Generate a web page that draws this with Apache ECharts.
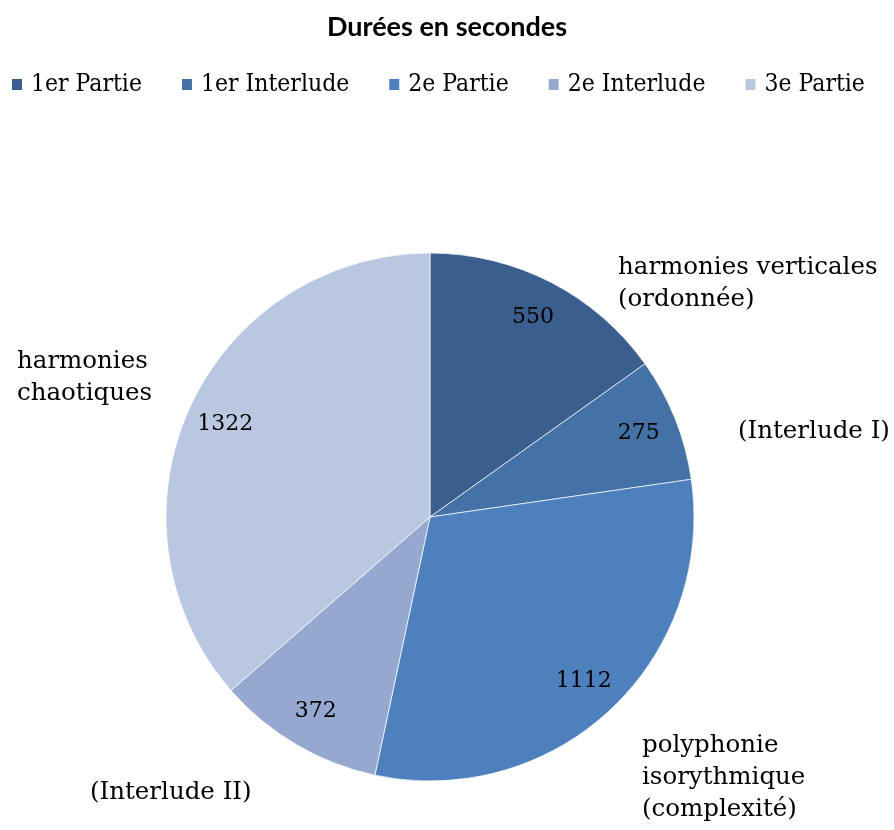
<!DOCTYPE html>
<html>
<head>
<meta charset="utf-8">
<script src="https://cdn.jsdelivr.net/npm/echarts@6/dist/echarts.min.js"></script>
<style>
html,body{margin:0;padding:0;background:#fff;}
#chart{width:894px;height:830px;}
</style>
</head>
<body>
<div id="chart"></div>
<script>
// Data
var categories = ['1er Partie', '1er Interlude', '2e Partie', '2e Interlude', '3e Partie'];
var values = [550, 275, 1112, 372, 1322];
var descriptions = ['harmonies verticales\n(ordonnée)', '(Interlude I)', 'polyphonie\nisorythmique\n(complexité)', '(Interlude II)', 'harmonies\nchaotiques'];
var titleText = 'Durées en secondes';

// Styles / layout
var colors = ['#3A5F8E', '#4471A6', '#4E80BD', '#95A9D0', '#BAC7E0'];
var outerLabelPos = [[618, 284], [738, 432], [642, 778], [90, 793], [17, 378]];
var serif = '"DejaVu Serif", "Liberation Serif", serif';
var CX = 430, CY = 517, R = 264;

var chart = echarts.init(document.getElementById('chart'));
var mainData = categories.map(function (c, i) {
  return { name: c, value: values[i], itemStyle: { color: colors[i] } };
});
var overlayData = categories.map(function (c, i) {
  return { name: c, value: values[i], itemStyle: { color: 'rgba(0,0,0,0)' } };
});

chart.setOption({
  animation: false,
  title: {
    text: titleText,
    left: 'center',
    top: 9,
    textStyle: { fontFamily: 'Lato, "Open Sans", sans-serif', fontWeight: 'bold', fontSize: 27, color: '#000' }
  },
  legend: {
    data: categories,
    top: 67,
    left: 5,
    itemWidth: 12,
    itemHeight: 13,
    itemGap: 38,
    icon: 'rect',
    textStyle: { fontFamily: '"DejaVu Serif Condensed", "Liberation Serif", serif', fontSize: 24.5, color: '#000', padding: [0, 0, 0, 3] }
  },
  series: [
    {
      type: 'pie',
      center: [CX, CY],
      radius: [0, R],
      startAngle: 90,
      clockwise: true,
      silent: true,
      itemStyle: { borderColor: '#ffffff', borderWidth: 0.7 },
      data: mainData,
      label: {
        show: true,
        position: 'outside',
        formatter: function (p) { return descriptions[p.dataIndex]; },
        fontFamily: serif,
        fontSize: 24.5,
        lineHeight: 32,
        color: '#000',
        align: 'left',
        overflow: 'none',
        width: 400
      },
      labelLine: { show: false },
      labelLayout: function (p) {
        var pos = outerLabelPos[p.dataIndex];
        return { x: pos[0], y: pos[1], align: 'left', verticalAlign: 'middle' };
      }
    },
    {
      type: 'pie',
      center: [CX, CY],
      radius: [180, R],
      startAngle: 90,
      clockwise: true,
      silent: true,
      data: overlayData,
      label: {
        show: true,
        position: 'inside',
        formatter: function (p) { return String(values[p.dataIndex]); },
        fontFamily: serif,
        fontSize: 22,
        color: '#000'
      },
      labelLine: { show: false },
      emphasis: { disabled: true }
    }
  ]
});
</script>
</body>
</html>
